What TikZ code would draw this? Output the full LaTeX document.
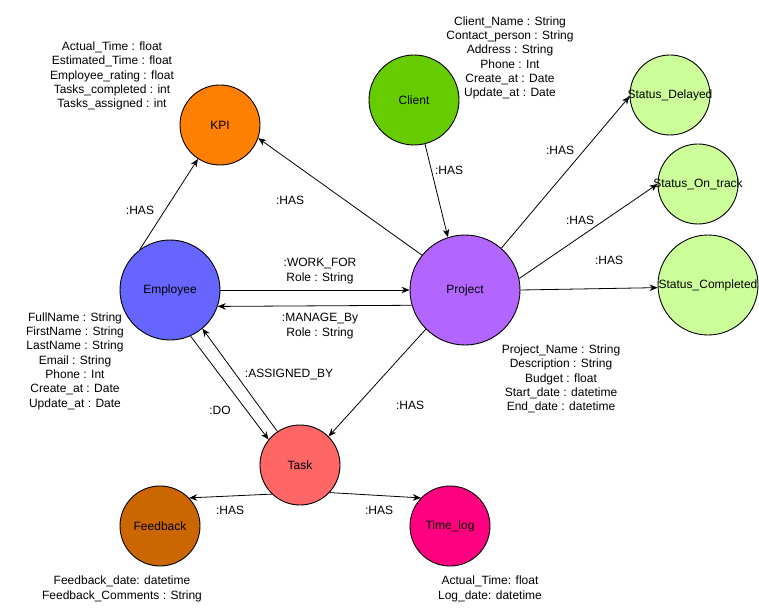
\documentclass[tikz,border=0pt]{standalone}
\usepackage{fontspec}
\setmainfont{Liberation Sans}
\usetikzlibrary{arrows.meta}
\definecolor{kpiC}{HTML}{FF8000}
\definecolor{clientC}{HTML}{66CC00}
\definecolor{statusC}{HTML}{CCFF99}
\definecolor{projectC}{HTML}{B266FF}
\definecolor{employeeC}{HTML}{6666FF}
\definecolor{taskC}{HTML}{FF6666}
\definecolor{feedbackC}{HTML}{CC6600}
\definecolor{timelogC}{HTML}{FF0080}
\begin{document}
\begin{tikzpicture}[x=1pt,y=-1pt,
  every node/.style={font=\fontsize{12}{14.3}\selectfont, inner sep=0pt},
  entity/.style={circle, draw=black, line width=0.9pt, inner sep=0pt},
  attrs/.style={align=center},
  lbl/.style={},
  rel/.style={draw=black, line width=0.8pt, -{Stealth[length=8pt,width=6.5pt,inset=2.5pt]}}]
\useasboundingbox (0,0) rectangle (759,609);

% entities (long names may run past the circle outline)
\node[entity, fill=kpiC, minimum size=80pt] (kpi) at (220,125) {KPI};
\node[entity, fill=clientC, minimum size=90pt] (client) at (414,100) {Client};
\node[entity, fill=statusC, minimum size=80pt] (sdel) at (670,95) {\makebox[0pt]{Status\_Delayed}};
\node[entity, fill=statusC, minimum size=80pt] (sont) at (698,184) {\makebox[0pt]{Status\_On\_track}};
\node[entity, fill=statusC, minimum size=100pt] (scom) at (708,285) {\makebox[0pt]{Status\_Completed}};
\node[entity, fill=projectC, minimum size=110pt] (proj) at (465,290) {Project};
\node[entity, fill=employeeC, minimum size=100pt] (emp) at (170,290) {Employee};
\node[entity, fill=taskC, minimum size=80pt] (task) at (300,465) {Task};
\node[entity, fill=feedbackC, minimum size=80pt] (fb) at (160,526) {Feedback};
\node[entity, fill=timelogC, minimum size=80pt] (tlog) at (450,526) {Time\_log};

% attribute lists
\node[attrs] (kpiattr) at (112,76) {Actual\_Time : float\\Estimated\_Time : float\\Employee\_rating : float\\Tasks\_completed : int\\Tasks\_assigned : int};
\node[attrs] (clientattr) at (510,58) {Client\_Name : String\\Contact\_person : String\\Address : String\\Phone : Int\\Create\_at : Date\\Update\_at : Date};
\node[attrs] (empattr) at (75,361) {FullName : String\\FirstName : String\\LastName : String\\Email : String\\Phone : Int\\Create\_at : Date\\Update\_at : Date};
\node[attrs] (projattr) at (561,379) {Project\_Name : String\\Description : String\\Budget : float\\Start\_date : datetime\\End\_date : datetime};
\node[attrs] (fbattr) at (122,589) {Feedback\_date: datetime\\Feedback\_Comments : String};
\node[attrs] (tlogattr) at (490,589) {Actual\_Time: float\\Log\_date: datetime};

% relationships
\draw[rel] (emp.127) -- (kpi.237);
\draw[rel] (proj.141) -- (kpi.341);
\draw[rel] (client.284) -- (proj.108);
\draw[rel] (proj.49) -- (sdel.182);
\draw[rel] (proj.12) -- (sont.west);
\draw[rel] (proj.east) -- (scom.183);
\draw[rel] (emp.east) -- (proj.west);
\draw[rel] (proj.196.91) -- (emp.341.34);
\draw[rel] (emp.294) -- (task.141);
\draw[rel] (task.124) -- (emp.310);
\draw[rel] (proj.225) -- (task.45);
\draw[rel] (task.226) -- (fb.44);
\draw[rel] (task.317) -- (tlog.136);

% relationship labels
\node[lbl] (l1) at (140,210) {:HAS};
\node[lbl] (l2) at (290,200) {:HAS};
\node[lbl] (l3) at (449,170) {:HAS};
\node[lbl] (l4) at (560,150) {:HAS};
\node[lbl] (l5) at (580,220) {:HAS};
\node[lbl] (l6) at (609,260) {:HAS};
\node[lbl, align=center] (l7) at (320,271) {:WORK\_FOR\\Role : String};
\node[lbl, align=center] (l8) at (320,326) {:MANAGE\_By\\Role : String};
\node[lbl] (l9) at (289,375) {:ASSIGNED\_BY};
\node[lbl] (l10) at (220,410) {:DO};
\node[lbl] (l11) at (410,405) {:HAS};
\node[lbl] (l12) at (230,510) {:HAS};
\node[lbl] (l13) at (379,510) {:HAS};
\end{tikzpicture}
\end{document}
